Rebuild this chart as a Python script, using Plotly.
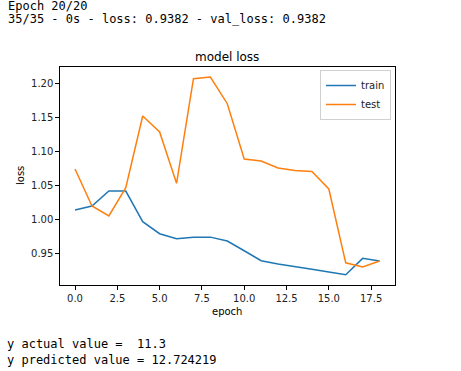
import plotly.graph_objects as go

epochs = list(range(19))
train_loss = [1.0137, 1.0196, 1.0416, 1.0416, 0.9965, 0.9788, 0.9715, 0.9735, 0.9738,
              0.9681, 0.9538, 0.9391, 0.9343, 0.9299, 0.9265, 0.9225, 0.9185, 0.9426, 0.9387]
test_loss = [1.0740, 1.0196, 1.0049, 1.0465, 1.1519, 1.1284, 1.0529, 1.2068, 1.2093,
             1.1700, 1.0887, 1.0857, 1.0754, 1.0718, 1.0704, 1.0446, 0.9360, 0.9299, 0.9387]
x_ticks = [0.0, 2.5, 5.0, 7.5, 10.0, 12.5, 15.0, 17.5]
y_ticks = [0.95, 1.00, 1.05, 1.10, 1.15, 1.20]
top_lines = ["Epoch 20/20", "35/35 - 0s - loss: 0.9382 - val_loss: 0.9382"]
bottom_lines = ["y actual value =  11.3", "y predicted value = 12.724219"]

W, H = 461, 371
ax_l, ax_r, ax_t, ax_b = 59.8, 394.8, 67, 285   # window-pixel positions of the axes box

def px(x):
    return x / W

def py(y):
    return (H - y) / H

fig = go.Figure()
fig.add_trace(go.Scatter(x=epochs, y=train_loss, mode="lines", name="train",
                         line=dict(color="#1f77b4", width=1.5)))
fig.add_trace(go.Scatter(x=epochs, y=test_loss, mode="lines", name="test",
                         line=dict(color="#ff7f0e", width=1.5)))

axis_common = dict(showgrid=False, zeroline=False, showline=True, linecolor="black",
                   linewidth=1, mirror=True, ticks="outside", ticklen=3.5, tickwidth=0.8,
                   tickcolor="black", tickfont=dict(family="DejaVu Sans", size=10, color="#222"))

fig.update_layout(
    width=W, height=H, margin=dict(l=0, r=0, t=0, b=0),
    paper_bgcolor="white", plot_bgcolor="white",
    xaxis=dict(domain=[px(ax_l), px(ax_r)], range=[-0.9, 18.9], tickvals=x_ticks,
               ticktext=[f"{v:.1f}" for v in x_ticks], **axis_common),
    yaxis=dict(domain=[py(ax_b), py(ax_t)], range=[0.9034, 1.224], tickvals=y_ticks,
               ticktext=[f"{v:.2f}" for v in y_ticks], **axis_common),
    legend=dict(x=px(391), y=py(70), xanchor="right", yanchor="top",
                bgcolor="rgba(255,255,255,0.8)", bordercolor="#d0d0d0", borderwidth=1,
                font=dict(family="DejaVu Sans", size=10, color="#222"),
                itemwidth=30, tracegroupgap=0),
    showlegend=True,
)

mono = dict(family="DejaVu Sans Mono", size=12, color="black")
ann = []
for i, t in enumerate(top_lines):
    ann.append(dict(text=t, x=px(6), y=py(6 + 12.5 * i), xref="paper", yref="paper",
                    xanchor="left", yanchor="middle", showarrow=False, font=mono))
for i, t in enumerate(bottom_lines):
    ann.append(dict(text=t, x=px(5), y=py(344 + 16 * i), xref="paper", yref="paper",
                    xanchor="left", yanchor="middle", showarrow=False, font=mono))
ann.append(dict(text="model loss", x=px((ax_l + ax_r) / 2), y=py(57), xref="paper", yref="paper",
                xanchor="center", yanchor="middle", showarrow=False,
                font=dict(family="DejaVu Sans", size=12, color="black")))
ann.append(dict(text="epoch", x=px((ax_l + ax_r) / 2), y=py(311), xref="paper", yref="paper",
                xanchor="center", yanchor="middle", showarrow=False,
                font=dict(family="DejaVu Sans", size=10, color="black")))
ann.append(dict(text="loss", x=px(20), y=py((ax_t + ax_b) / 2), xref="paper", yref="paper",
                xanchor="center", yanchor="middle", showarrow=False, textangle=-90,
                font=dict(family="DejaVu Sans", size=10, color="black")))
fig.update_layout(annotations=ann)

# remove the browser's default 8px body margin so the figure fills the window
fig.write_html("out.html", config={"displayModeBar": False},
               post_script="document.body.style.margin='0';")
